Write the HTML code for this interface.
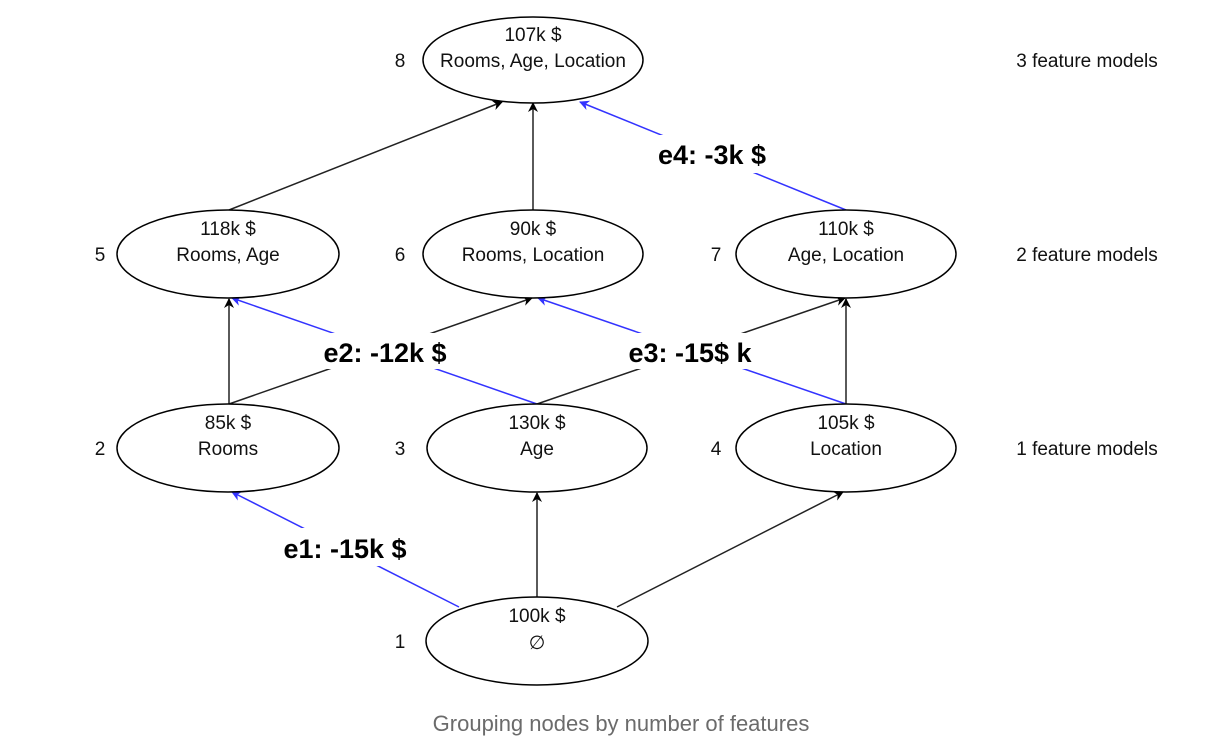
<!DOCTYPE html>
<html><head><meta charset="utf-8"><style>
body{margin:0;background:#fff;width:1229px;height:750px;overflow:hidden}
svg text{font-family:"Liberation Sans",sans-serif}
</style></head><body>
<svg width="1229" height="750" viewBox="0 0 1229 750">
<defs>
<marker id="ak" markerWidth="10" markerHeight="10" refX="9" refY="5" orient="auto" markerUnits="userSpaceOnUse"><path d="M0,0 L10,5 L0,10 L3,5 z" fill="#000"/></marker>
<marker id="ab" markerWidth="10" markerHeight="10" refX="9" refY="5" orient="auto" markerUnits="userSpaceOnUse"><path d="M0,0 L10,5 L0,10 L3,5 z" fill="#3333ff"/></marker>
</defs>
<g stroke-width="1.5" fill="none">
<line x1="537" y1="598" x2="537" y2="493" stroke="#222" marker-end="url(#ak)"/>
<line x1="617" y1="607" x2="843" y2="492" stroke="#222" marker-end="url(#ak)"/>
<line x1="459" y1="607" x2="232" y2="492" stroke="#3333ff" marker-end="url(#ab)"/>
<line x1="229" y1="404" x2="229" y2="299" stroke="#222" marker-end="url(#ak)"/>
<line x1="229" y1="404" x2="532" y2="298" stroke="#222" marker-end="url(#ak)"/>
<line x1="537" y1="404" x2="232" y2="298" stroke="#3333ff" marker-end="url(#ab)"/>
<line x1="537" y1="404" x2="845" y2="298" stroke="#222" marker-end="url(#ak)"/>
<line x1="846" y1="404" x2="538" y2="298" stroke="#3333ff" marker-end="url(#ab)"/>
<line x1="846" y1="404" x2="846" y2="299" stroke="#222" marker-end="url(#ak)"/>
<line x1="229" y1="210" x2="502" y2="102" stroke="#222" marker-end="url(#ak)"/>
<line x1="533" y1="210" x2="533" y2="103" stroke="#222" marker-end="url(#ak)"/>
<line x1="846" y1="210" x2="580" y2="102" stroke="#3333ff" marker-end="url(#ab)"/>
</g>
<g fill="#fff">
<rect x="290" y="528" width="110" height="38"/>
<rect x="300" y="333" width="170" height="36"/>
<rect x="605" y="333" width="170" height="36"/>
<rect x="640" y="135" width="140" height="38"/>
</g>
<g font-weight="bold" font-size="27" text-anchor="middle" fill="#000">
<text x="345" y="558">e1: -15k $</text>
<text x="385" y="362">e2: -12k $</text>
<text x="690" y="362">e3: -15$ k</text>
<text x="712" y="164">e4: -3k $</text>
</g>
<g fill="#fff" stroke="#000" stroke-width="1.5">
<ellipse cx="533" cy="60" rx="110" ry="43"/>
<ellipse cx="228" cy="254" rx="111" ry="44"/>
<ellipse cx="533" cy="254" rx="110" ry="44"/>
<ellipse cx="846" cy="254" rx="110" ry="44"/>
<ellipse cx="228" cy="448" rx="111" ry="44"/>
<ellipse cx="537" cy="448" rx="110" ry="44"/>
<ellipse cx="846" cy="448" rx="110" ry="44"/>
<ellipse cx="537" cy="641" rx="111" ry="44"/>
</g>
<g font-size="19" text-anchor="middle" fill="#111">
<text x="533" y="41">107k $</text><text x="533" y="67">Rooms, Age, Location</text>
<text x="228" y="235">118k $</text><text x="228" y="261">Rooms, Age</text>
<text x="533" y="235">90k $</text><text x="533" y="261">Rooms, Location</text>
<text x="846" y="235">110k $</text><text x="846" y="261">Age, Location</text>
<text x="228" y="429">85k $</text><text x="228" y="455">Rooms</text>
<text x="537" y="429">130k $</text><text x="537" y="455">Age</text>
<text x="846" y="429">105k $</text><text x="846" y="455">Location</text>
<text x="537" y="622">100k $</text><text x="537" y="649">∅</text>
<text x="400" y="67">8</text>
<text x="100" y="261">5</text><text x="400" y="261">6</text><text x="716" y="261">7</text>
<text x="100" y="455">2</text><text x="400" y="455">3</text><text x="716" y="455">4</text>
<text x="400" y="648">1</text>
</g>
<g font-size="19" text-anchor="middle" fill="#111">
<text x="1087" y="67">3 feature models</text>
<text x="1087" y="261">2 feature models</text>
<text x="1087" y="455">1 feature models</text>
</g>
<text x="621" y="731" font-size="22" text-anchor="middle" fill="#6b6b6b">Grouping nodes by number of features</text>
</svg>
</body></html>
